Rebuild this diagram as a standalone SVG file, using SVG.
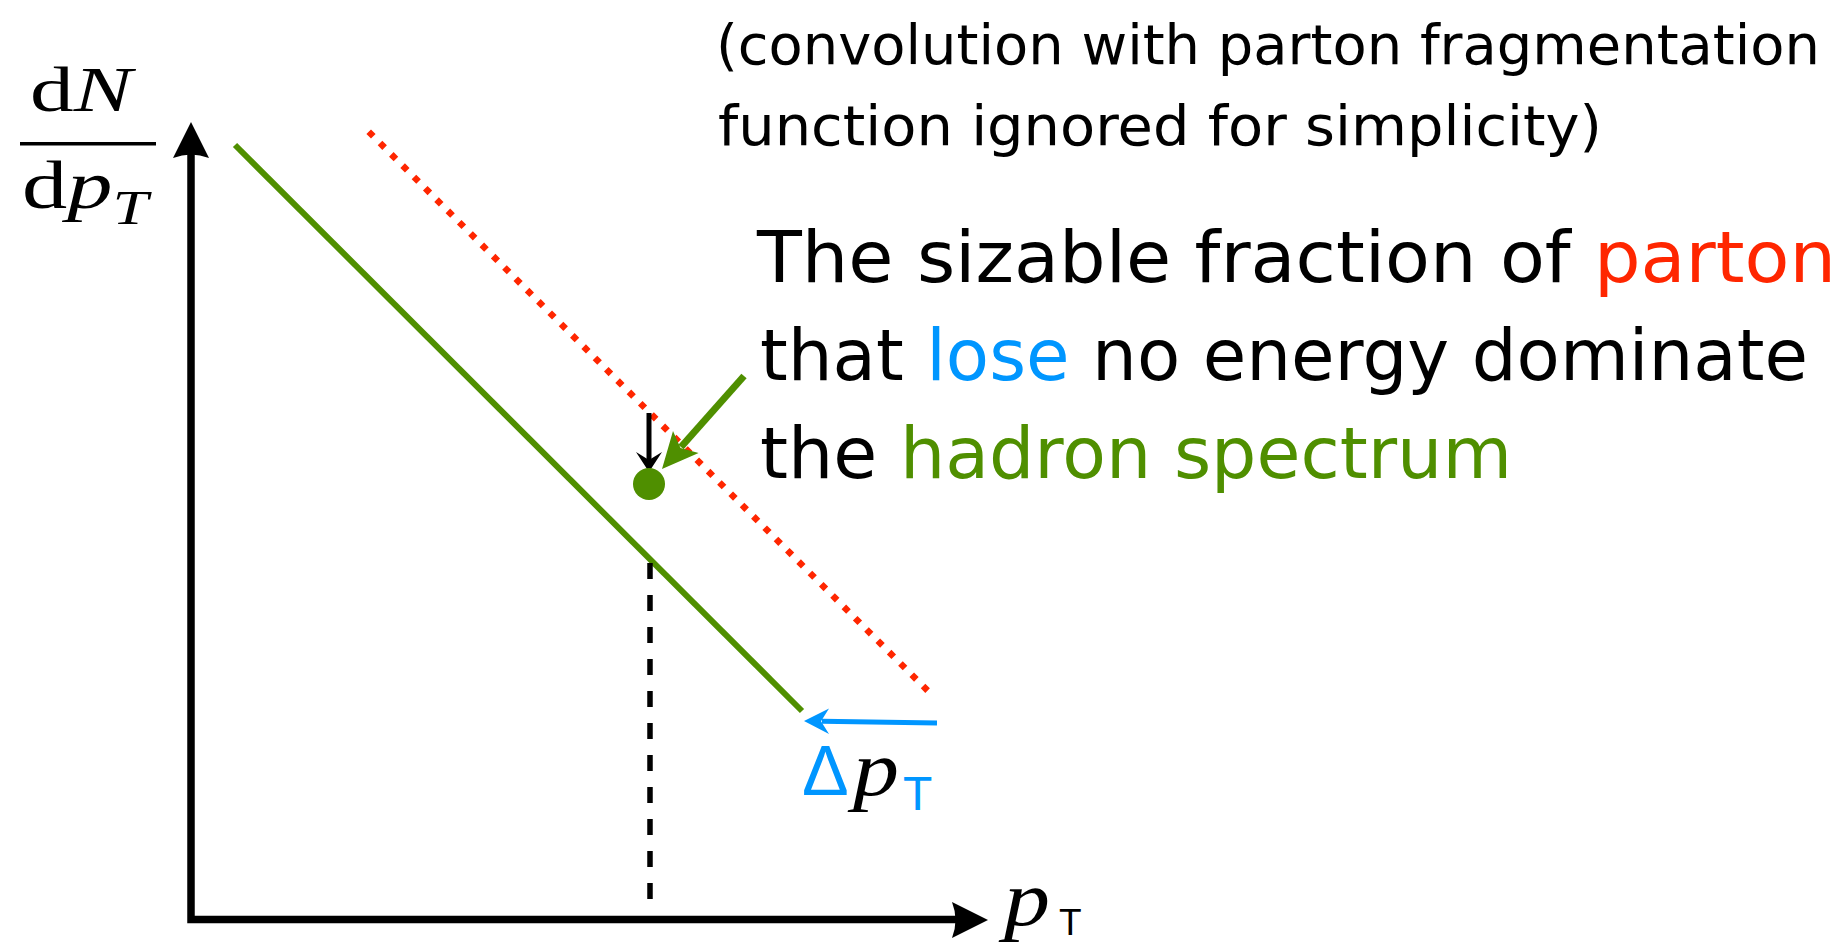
<svg xmlns="http://www.w3.org/2000/svg" width="1845" height="949" viewBox="0 0 1845 949">
<style>
.comic{font-family:"DejaVu Sans","Liberation Sans",sans-serif;fill:#000}
.big{font-size:72px}
.small{font-size:55px}
.red{fill:#FF2600}
.blue{fill:#0096FF}
.green{fill:#4F8F00}
.serif{font-family:"Liberation Serif","DejaVu Serif",serif;fill:#000}
.it{font-style:italic}
.sans{font-family:"Liberation Sans","DejaVu Sans",sans-serif}
.axis{fill:none;stroke:#000;stroke-width:7.5;stroke-linejoin:miter}
</style>
<rect width="1845" height="949" fill="#fff"/>

<g id="axes">
  <path class="axis" d="M191,142 L191,919.5 L968,919.5"/>
  <path d="M191,122 L173,158 Q191,151 209,158 Z" fill="#000"/>
  <path d="M988,920 L952,902 Q959,920 952,938 Z" fill="#000"/>
</g>

<g id="ylabel">
  <text class="serif" x="30" y="111" font-size="64" textLength="102" lengthAdjust="spacingAndGlyphs">d<tspan class="it">N</tspan></text>
  <rect x="20" y="142" width="136" height="3.5" fill="#000"/>
  <text class="serif" x="22" y="208" font-size="68" textLength="126" lengthAdjust="spacingAndGlyphs">d<tspan class="it">p</tspan><tspan class="it" font-size="48" dy="16">T</tspan></text>
</g>

<g id="xlabel">
  <text class="serif it" x="1004" y="925" font-size="78" textLength="46" lengthAdjust="spacingAndGlyphs">p</text>
  <text class="sans" x="1059" y="935" font-size="37">T</text>
</g>

<g id="connectors">
  <path id="hadron-line" d="M235,145 L802,711" stroke="#4F8F00" stroke-width="6" fill="none"/>
  <path id="parton-line" d="M368.7,131.7 L927.6,690.6" stroke="#FF2600" stroke-width="6.5" stroke-dasharray="6.5 9.5" fill="none"/>
  <path id="drop-line" d="M650,563 L650,900" stroke="#000" stroke-width="5.5" stroke-dasharray="16 16" fill="none"/>
  <g id="black-arrow">
    <path d="M649,413 L649,460" stroke="#000" stroke-width="5" fill="none"/>
    <path d="M649,472 L636,452 L649,460 L662,452 Z" fill="#000"/>
  </g>
  <g id="green-arrow">
    <path d="M744,376 L681,447" stroke="#4F8F00" stroke-width="7" fill="none"/>
    <path d="M662,469 L673,431 L680.5,448 L698.6,453 Z" fill="#4F8F00"/>
  </g>
  <g id="blue-arrow">
    <path d="M937,723 L822,721.3" stroke="#0096FF" stroke-width="5" fill="none"/>
    <path d="M804,721 L829,708.5 L821,721.3 L829,734 Z" fill="#0096FF"/>
  </g>
</g>

<g id="point">
  <circle cx="649" cy="484" r="16" fill="#4F8F00"/>
</g>

<g id="delta-label">
  <text class="sans blue" x="802" y="795" font-size="70">Δ</text>
  <text class="serif it blue" x="853" y="795" font-size="78" textLength="46" lengthAdjust="spacingAndGlyphs">p</text>
  <text class="sans blue" x="903" y="810" font-size="48">T</text>
</g>

<g id="note">
  <text class="comic small" x="716" y="64" textLength="1104" lengthAdjust="spacingAndGlyphs">(convolution with parton fragmentation</text>
  <text class="comic small" x="718" y="145" textLength="884" lengthAdjust="spacingAndGlyphs">function ignored for simplicity)</text>
</g>

<g id="statement">
  <text class="comic big" x="757" y="282" textLength="1079" lengthAdjust="spacingAndGlyphs">The sizable fraction of <tspan class="red">parton</tspan></text>
  <text class="comic big" x="760" y="380" textLength="1048" lengthAdjust="spacingAndGlyphs">that <tspan class="blue">lose</tspan> no energy dominate</text>
  <text class="comic big" x="760" y="478" textLength="752" lengthAdjust="spacingAndGlyphs">the <tspan class="green">hadron spectrum</tspan></text>
</g>
</svg>
